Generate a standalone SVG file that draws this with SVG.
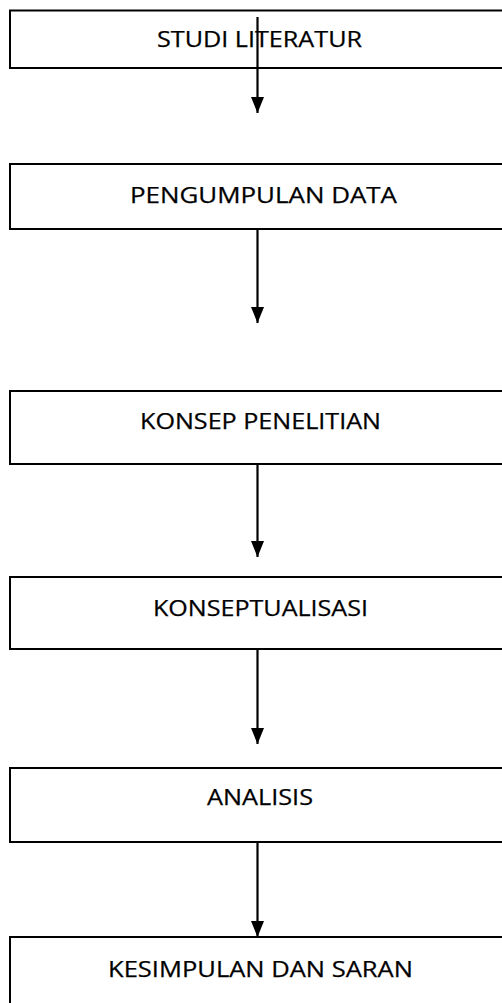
<svg xmlns="http://www.w3.org/2000/svg" width="502" height="1003" viewBox="0 0 502 1003">
  <style>
    .box { fill: #ffffff; stroke: #000000; stroke-width: 2; }
    .lbl { font-family: "Open Sans", "Liberation Sans", sans-serif; font-size: 22px; fill: #000000; text-anchor: middle; stroke: #000000; stroke-width: 0.25; }
    .conn { stroke: #000000; stroke-width: 2.2; fill: none; marker-end: url(#arrow); }
  </style>
  <defs>
    <marker id="arrow" markerUnits="userSpaceOnUse" viewBox="0 0 16 13" refX="16" refY="6.5" markerWidth="16" markerHeight="13" orient="auto">
      <path d="M0,0 L16,6.5 L0,13 z" fill="#000000"/>
    </marker>
  </defs>
  <rect width="502" height="1003" fill="#ffffff"/>
  <g id="node-studi-literatur">
    <rect class="box" x="10" y="10.5" width="520" height="57.5"/>
    <text class="lbl" x="259.5" y="47" textLength="205" lengthAdjust="spacingAndGlyphs">STUDI LITERATUR</text>
  </g>
  <g id="node-pengumpulan-data">
    <rect class="box" x="10" y="164" width="520" height="65"/>
    <text class="lbl" x="263.5" y="203" textLength="267" lengthAdjust="spacingAndGlyphs">PENGUMPULAN DATA</text>
  </g>
  <g id="node-konsep-penelitian">
    <rect class="box" x="10" y="391" width="520" height="73"/>
    <text class="lbl" x="260.5" y="429" textLength="241" lengthAdjust="spacingAndGlyphs">KONSEP PENELITIAN</text>
  </g>
  <g id="node-konseptualisasi">
    <rect class="box" x="10" y="577" width="520" height="72"/>
    <text class="lbl" x="260.5" y="616" textLength="215" lengthAdjust="spacingAndGlyphs">KONSEPTUALISASI</text>
  </g>
  <g id="node-analisis">
    <rect class="box" x="10" y="768" width="520" height="74"/>
    <text class="lbl" x="260" y="805" textLength="106" lengthAdjust="spacingAndGlyphs">ANALISIS</text>
  </g>
  <g id="node-kesimpulan-dan-saran">
    <rect class="box" x="10" y="937" width="520" height="100"/>
    <text class="lbl" x="260.5" y="977" textLength="305" lengthAdjust="spacingAndGlyphs">KESIMPULAN DAN SARAN</text>
  </g>
  <g id="connectors">
    <line class="conn" x1="257.5" y1="17" x2="257.5" y2="113"/>
    <line class="conn" x1="257.5" y1="229" x2="257.5" y2="323"/>
    <line class="conn" x1="257.5" y1="464" x2="257.5" y2="557"/>
    <line class="conn" x1="257.5" y1="649" x2="257.5" y2="744"/>
    <line class="conn" x1="257.5" y1="842" x2="257.5" y2="937"/>
  </g>
</svg>
